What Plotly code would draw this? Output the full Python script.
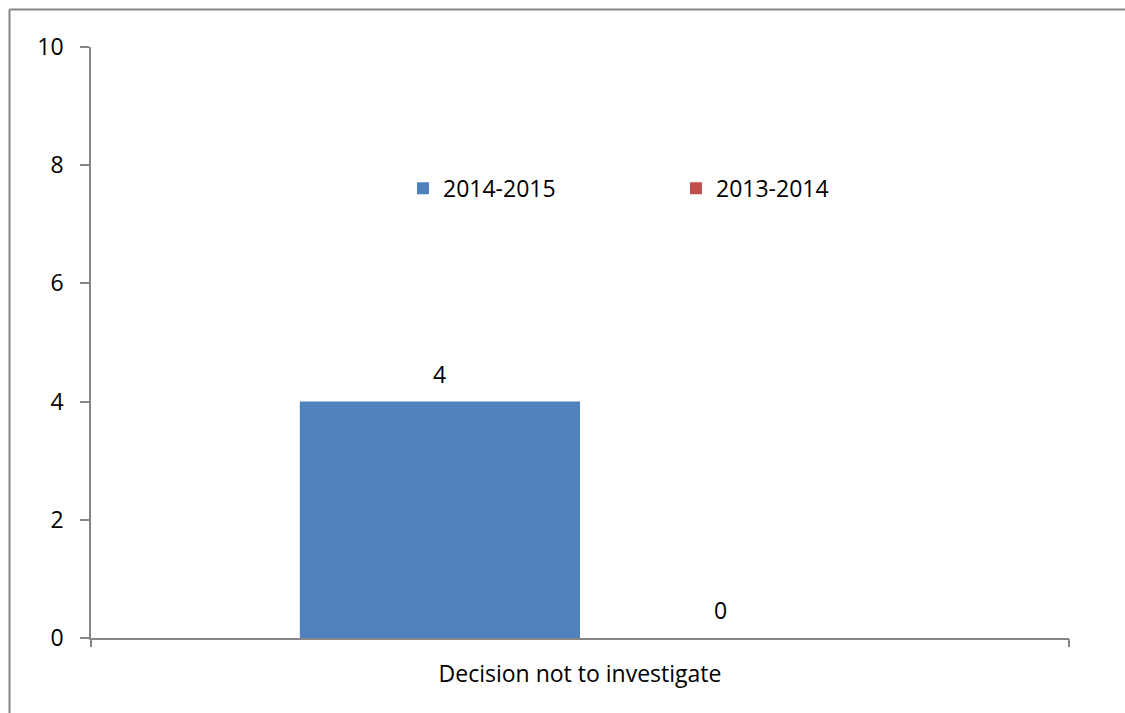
import plotly.graph_objects as go

categories = ["Decision not to investigate"]
series_names = ["2014-2015", "2013-2014"]
values_2014_2015 = [4]
values_2013_2014 = [0]
colors = ["#4F81BD", "#C0504D"]
y_ticks = [0, 2, 4, 6, 8, 10]

FONT = "Open Sans"
FS = 23
AXIS_COLOR = "#868686"
W, H = 1125, 713
M = dict(l=91, r=56, t=47, b=75)
BARGAP = 0.427

plot_w = W - M["l"] - M["r"]
bar_px = plot_w * (1 - BARGAP) / len(series_names)

fig = go.Figure()
annotations = []
all_vals = [values_2014_2015, values_2013_2014]
for i, (name, vals, col) in enumerate(zip(series_names, all_vals, colors)):
    fig.add_trace(go.Bar(x=categories, y=vals, name=name,
                         marker=dict(color=col, line=dict(width=0))))
    for cat, v in zip(categories, vals):
        annotations.append(dict(
            x=cat, y=v, xref="x", yref="y", text=str(v), showarrow=False,
            xshift=(i - (len(series_names) - 1) / 2) * bar_px, yshift=28,
            yanchor="middle", font=dict(family=FONT, size=FS, color="black")))

# invisible trace for the boundary tick axis
fig.add_trace(go.Scatter(x=[0, 1], y=[0, 0], xaxis="x2", mode="lines",
                         line=dict(width=0), showlegend=False, hoverinfo="skip"))

fig.update_layout(
    width=W, height=H, margin=M,
    paper_bgcolor="white", plot_bgcolor="white",
    barmode="group", bargap=BARGAP, bargroupgap=0,
    font=dict(family=FONT, size=FS, color="black"),
    xaxis=dict(type="category", range=[-0.5, 0.5], showline=True, linecolor=AXIS_COLOR,
               linewidth=1.5, ticks="", showgrid=False, ticklabelstandoff=15,
               tickfont=dict(family=FONT, size=FS, color="black")),
    xaxis2=dict(overlaying="x", range=[0, 1], tickvals=[0, 1], showticklabels=False,
                ticks="outside", ticklen=8, tickwidth=1.5, tickcolor=AXIS_COLOR,
                showline=False, showgrid=False, zeroline=False, side="bottom",
                anchor="y"),
    yaxis=dict(range=[0, 10], tickvals=y_ticks, ticks="outside", ticklen=9, tickwidth=1.5,
               tickcolor=AXIS_COLOR, showline=True, linecolor=AXIS_COLOR, linewidth=1.5,
               showgrid=False, zeroline=False, ticklabelstandoff=12,
               tickfont=dict(family=FONT, size=FS, color="black")),
    legend=dict(orientation="h", x=0.319, y=0.761, xanchor="left", yanchor="middle",
                entrywidth=228, entrywidthmode="pixels", itemwidth=30,
                font=dict(family=FONT, size=FS, color="black"), bgcolor="rgba(0,0,0,0)"),
    annotations=annotations,
    shapes=[
        dict(type="line", xref="paper", yref="paper",
             x0=(9.5 - 91) / 978, x1=(1125 - 91) / 978,
             y0=1 + (47 - 9.5) / 591, y1=1 + (47 - 9.5) / 591,
             line=dict(color=AXIS_COLOR, width=2), layer="below"),
        dict(type="line", xref="paper", yref="paper",
             x0=(9.5 - 91) / 978, x1=(9.5 - 91) / 978,
             y0=1 + (47 - 9.5) / 591, y1=-(713 - 638) / 591,
             line=dict(color=AXIS_COLOR, width=2), layer="below"),
    ],
)

fig.write_html("out.html", config={"displayModeBar": False},
               post_script="document.body.style.margin='0';document.body.style.overflow='hidden';"
                           "document.documentElement.style.overflow='hidden';")
